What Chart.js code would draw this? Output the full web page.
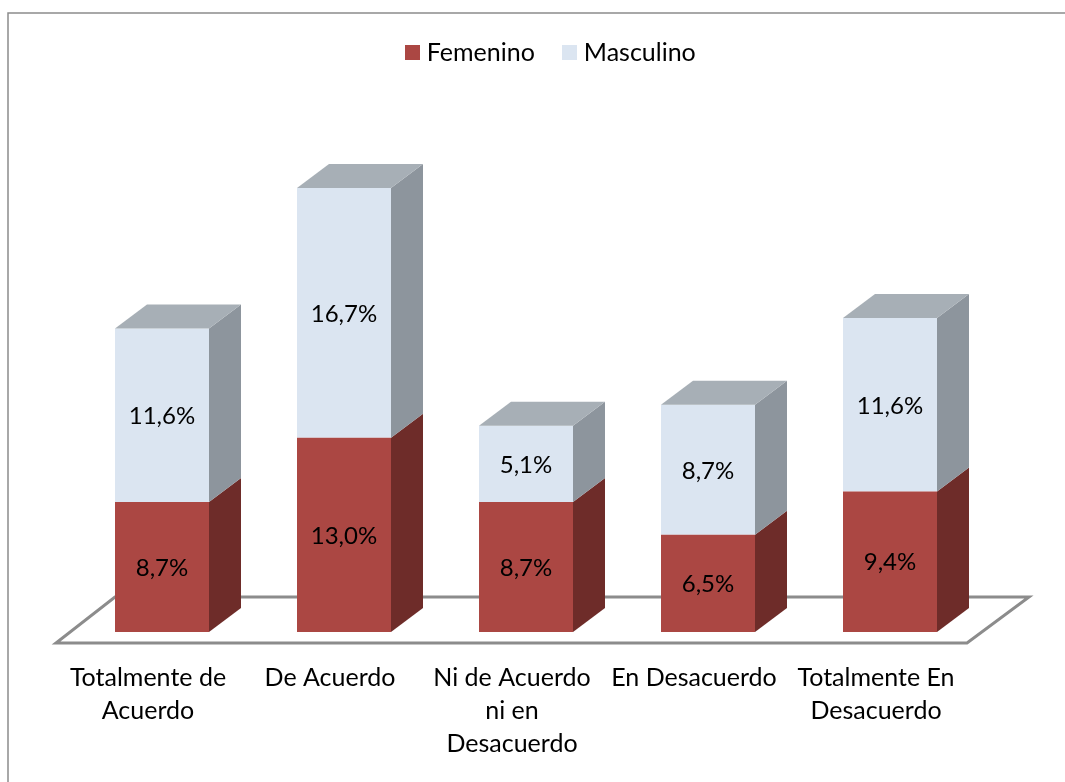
<!DOCTYPE html>
<html><head><meta charset="utf-8">
<style>html,body{margin:0;padding:0;background:#fff;overflow:hidden}canvas{display:block}</style>
<script src="https://cdn.jsdelivr.net/npm/chart.js@4/dist/chart.umd.js"></script>
</head><body>
<canvas id="c" width="1065" height="782"></canvas>
<script>
const categories = [
  ["Totalmente de","Acuerdo"],
  ["De Acuerdo"],
  ["Ni de Acuerdo","ni en","Desacuerdo"],
  ["En Desacuerdo"],
  ["Totalmente En","Desacuerdo"]
];
const femenino = [8.7, 13.0, 8.7, 6.5, 9.4];
const masculino = [11.6, 16.7, 5.1, 8.7, 11.6];
const seriesNames = ["Femenino", "Masculino"];
const FONT = "Lato, Carlito, sans-serif";
const FS = 25, LABEL_FS = 24;
const DX = 32, DY = 24;
const faces = [
  {front:"#AB4743", side:"#6E2C29", top:"#8F3B38"},
  {front:"#DBE5F1", side:"#8D959D", top:"#A7AFB6"}
];
function swatch(color){
  const s=document.createElement("canvas");s.width=15;s.height=15;
  const g=s.getContext("2d");g.fillStyle=color;g.fillRect(0,0,15,15);return s;
}
const frame = {
  id:"frame",
  beforeDraw(chart){
    const c=chart.ctx;c.save();
    c.fillStyle="#fff";c.fillRect(0,0,chart.width,chart.height);
    c.strokeStyle="#8C8C8C";c.lineWidth=1.5;
    c.beginPath();c.moveTo(8,chart.height);c.lineTo(8,13);c.lineTo(chart.width,13);c.stroke();
    c.restore();
  }
};
const legendShift = { id:"legendShift", afterLayout(chart){ chart.legend.left+=27; chart.legend.right+=27; } };
const floor = {
  id:"floor",
  beforeDatasetsDraw(chart){
    const x=chart.scales.x, y=chart.scales.y, c=chart.ctx, b=y.getPixelForValue(0);
    c.save();c.strokeStyle="#8C8C8C";c.lineWidth=3;c.lineJoin="miter";
    c.beginPath();
    c.moveTo(x.left-15,b+11);c.lineTo(x.right-14,b+11);
    c.lineTo(x.right+48,b-35);c.lineTo(x.left+44,b-35);c.closePath();c.stroke();
    c.restore();
  }
};
const box3d = {
  id:"box3d",
  afterDatasetsDraw(chart){
    const c=chart.ctx;c.save();
    chart.data.datasets.forEach((ds,i)=>{
      chart.getDatasetMeta(i).data.forEach(bar=>{
        const r=bar.x+bar.width/2, l=bar.x-bar.width/2, t=bar.y, bt=bar.base;
        c.fillStyle=faces[i].side;
        c.beginPath();c.moveTo(r,bt);c.lineTo(r+DX,bt-DY);c.lineTo(r+DX,t-DY);c.lineTo(r,t);c.closePath();c.fill();
        if(i===chart.data.datasets.length-1){
          c.fillStyle=faces[i].top;
          c.beginPath();c.moveTo(l,t);c.lineTo(l+DX,t-DY);c.lineTo(r+DX,t-DY);c.lineTo(r,t);c.closePath();c.fill();
        }
      });
    });
    c.fillStyle="#000";c.font=LABEL_FS+"px "+FONT;c.textAlign="center";c.textBaseline="middle";
    chart.data.datasets.forEach((ds,i)=>{
      chart.getDatasetMeta(i).data.forEach((bar,j)=>{
        c.fillText(ds.data[j].toFixed(1).replace(".",",")+"%",bar.x,(bar.y+bar.base)/2+1);
      });
    });
    c.restore();
  }
};
new Chart(document.getElementById("c"),{
  type:"bar",
  data:{labels:categories,datasets:[
    {label:seriesNames[0],data:femenino,backgroundColor:faces[0].front,stack:"s"},
    {label:seriesNames[1],data:masculino,backgroundColor:faces[1].front,stack:"s"}
  ]},
  options:{
    responsive:false,animation:false,
    layout:{padding:{left:71,right:84,top:7.5,bottom:0}},
    datasets:{bar:{barPercentage:1,categoryPercentage:94/182,borderWidth:0}},
    scales:{
      x:{stacked:true,grid:{display:false,drawTicks:false},border:{display:false},
        afterFit(s){s.height=150;},
        ticks:{color:"#000",padding:29,labelOffset:-14,maxRotation:0,autoSkip:false,font:{family:FONT,size:FS,lineHeight:33/FS}}},
      y:{stacked:true,display:false,min:0,max:37.26}
    },
    plugins:{
      tooltip:{enabled:false},
      legend:{position:"top",align:"center",labels:{
        color:"#000",font:{family:FONT,size:FS},usePointStyle:true,boxWidth:4,boxHeight:15,padding:32.5,
        generateLabels(chart){
          return Chart.defaults.plugins.legend.labels.generateLabels(chart).map(it=>{
            it.pointStyle=swatch(it.fillStyle);return it;});
        }
      }}
    }
  },
  plugins:[frame,legendShift,floor,box3d]
});
</script>
</body></html>
